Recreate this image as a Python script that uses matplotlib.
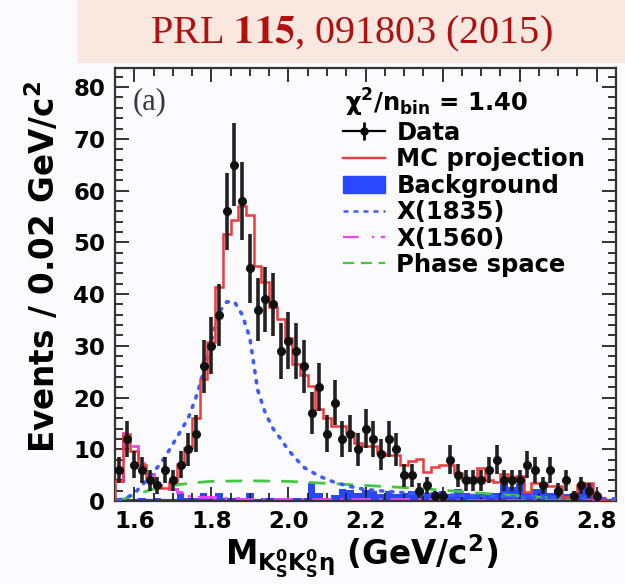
import matplotlib as mpl
mpl.use('Agg')
import matplotlib.pyplot as plt
import numpy as np
from matplotlib.lines import Line2D
from matplotlib.patches import Patch, Rectangle
from matplotlib.ticker import MultipleLocator

plt.rcParams['font.family'] = ['DejaVu Sans']
plt.rcParams['font.weight'] = 'bold'
plt.rcParams['mathtext.default'] = 'bf'

# 0.02 GeV/c^2 bins starting at 1.55
bin_lo = 1.55
bin_width = 0.02

data_counts = [6, 12, 7, 6, 4, 3, 6, 4, 7, 10,
               13, 26, 30, 36, 56, 65, 58, 45, 37, 39,
               38, 29, 31, 29, 26, 17, 22, 13, 19, 12,
               13, 10, 14, 12, 9, 12, 10, 5, 5, 2,
               3, 1, 1, 8, 5, 4, 4, 4, 6, 8,
               4, 4, 4, 7, 6, 3, 6, 2, 4, 1,
               3, 2, 1, 0, 0]

mc_projection = [3.9, 12.9, 9.7, 7.0, 4.5, 2.9, 2.6, 3.6, 7.2, 10.3,
                 16.0, 23.6, 30.7, 41.3, 51.7, 54.4, 57.0, 55.2, 45.5, 42.3,
                 37.5, 35.2, 31.6, 26.5, 24.4, 22.3, 17.8, 16.1, 14.5, 14.5,
                 13.2, 11.3, 10.7, 10.7, 9.2, 8.9, 8.9, 6.9, 7.8, 8.1,
                 5.7, 6.5, 6.9, 6.9, 5.5, 4.0, 4.0, 6.3, 4.0, 3.7,
                 5.3, 4.5, 4.8, 1.8, 3.5, 3.5, 2.9, 2.9, 0.8, 0.8,
                 3.1, 3.4, 0.0, 0.0, 0.0]

background = [0.5, 0.4, 0.4, 0.5, 0.4, 0.5, 0.4, 0.4, 1.6, 0.5,
              0.6, 1.6, 0.6, 1.6, 0.6, 0.6, 0.6, 1.6, 0.4, 0.5,
              0.5, 0.6, 0.4, 0.6, 0.6, 3.4, 1.6, 0.6, 1.2, 2.4,
              2.1, 1.6, 2.1, 1.9, 1.3, 1.9, 1.3, 1.6, 1.9, 2.4,
              1.6, 1.7, 1.9, 1.3, 2.4, 1.6, 1.3, 1.7, 1.6, 1.6,
              3.2, 2.7, 3.2, 1.6, 2.4, 2.3, 1.6, 2.4, 1.3, 1.6,
              3.2, 3.3, 0.0, 0.0, 0.0]

x1560 = [3.9, 13.2, 10.7, 7.4, 5.2, 3.9, 3.0, 2.3, 1.7, 1.0,
         0.8, 0.8, 0.7, 0.6, 0.5, 0.5, 0.4, 0.4, 0.4, 0.3,
         0.3, 0.3, 0.3, 0.3, 0.3, 0.3, 0.3, 0.3, 0.3, 0.3,
         0.3, 0.3, 0.3, 0.3, 0.3, 0.3, 0.3, 0.3, 0.3, 0.3,
         0.3, 0.3, 0.3, 0.2, 0.2, 0.2, 0.2, 0.2, 0.2, 0.2,
         0.2, 0.2, 0.2, 0.2, 0.2, 0.2, 0.2, 0.2, 0.2, 0.2,
         0.2, 0.2, 0.0, 0.0, 0.0]

x1835_mass = [1.56, 1.58, 1.60, 1.62, 1.64, 1.66, 1.68, 1.70, 1.72, 1.74,
              1.76, 1.78, 1.80, 1.82, 1.84, 1.86, 1.88, 1.90, 1.91, 1.92,
              1.94, 1.96, 1.98, 2.00, 2.04, 2.08, 2.12, 2.16, 2.20, 2.30,
              2.40, 2.50, 2.60, 2.70, 2.80, 2.85]
x1835_events = [0.2, 0.6, 1.5, 3.0, 4.8, 6.5, 8.5, 11.0, 13.5, 16.0,
                20.0, 25.0, 31.0, 36.5, 38.5, 38.5, 36.0, 31.5, 26.5, 21.5,
                17.0, 14.0, 12.0, 9.8, 6.5, 4.8, 3.6, 2.8, 2.2, 1.6,
                1.2, 1.0, 0.8, 0.6, 0.5, 0.4]

phsp_mass = [1.555, 1.57, 1.60, 1.65, 1.70, 1.75, 1.80, 1.90, 2.00, 2.10,
             2.20, 2.30, 2.40, 2.50, 2.60, 2.70, 2.76, 2.80]
phsp_events = [0.0, 0.3, 1.2, 2.3, 3.0, 3.5, 3.8, 3.9, 3.8, 3.4,
               3.0, 2.6, 2.1, 1.5, 1.0, 0.5, 0.2, 0.0]

edges = bin_lo + bin_width * np.arange(len(data_counts) + 1)
centers = 0.5 * (edges[:-1] + edges[1:])
counts = np.array(data_counts, dtype=float)

red = '#ee3a3a'
blue = '#2a48ff'
dot_blue = '#3d5cff'
magenta = '#ee44ee'
green = '#44c844'
bg = '#fbfafd'

fig = plt.figure(figsize=(6.25, 5.84), dpi=100, facecolor=bg)
ax = fig.add_axes([115 / 625, 83 / 584, 501 / 625, 433 / 584], facecolor=bg)

# journal banner
fig.patches.append(Rectangle((78 / 625, 1 - 62 / 584), 1, 62 / 584,
                             transform=fig.transFigure, color='#f8e8df',
                             zorder=0))
fig.text(0.562, 1 - 34 / 584, r'PRL $\mathbf{115}$, 091803 (2015)',
         family='Liberation Serif', math_fontfamily='stix',
         fontweight='normal', fontsize=29, color='#b01010',
         ha='center', va='center')

ax.stairs(background, edges, fill=True, color=blue, zorder=1)
ax.axhline(0, color='#3a3ad8', lw=3, zorder=1.5)
ax.plot(phsp_mass, phsp_events, color=green, lw=2.0, ls=(0, (6, 4)), zorder=2)
ax.stairs(x1560, edges, color=magenta, lw=2.0, ls=(0, (7, 3, 1, 3)),
          baseline=None, zorder=2)
ax.plot(x1835_mass, x1835_events, color=dot_blue, lw=2.6, ls=(0, (0.6, 2.2)),
        dash_capstyle='round', zorder=3)
ax.stairs(mc_projection, edges, color=red, lw=1.8, zorder=4)

shown = counts > 0
ax.errorbar(centers[shown], counts[shown], yerr=np.sqrt(counts[shown]),
            fmt='o', color='#111111', ecolor='#222222', ms=5.5,
            elinewidth=2.6, capsize=0, zorder=5)

ax.set_xlim(1.55, 2.85)
ax.set_ylim(0, 83.7)
ax.xaxis.set_major_locator(MultipleLocator(0.2))
ax.xaxis.set_minor_locator(MultipleLocator(0.05))
ax.yaxis.set_major_locator(MultipleLocator(10))
ax.yaxis.set_minor_locator(MultipleLocator(2))
ax.xaxis.set_major_formatter(lambda v, p: f'{v:.1f}')
ax.tick_params(which='both', direction='in', top=True, right=True,
               width=1.3, color='#222222', labelsize=16.5)
ax.tick_params(which='major', length=10)
ax.tick_params(which='minor', length=5.5)
ax.tick_params(axis='x', pad=6.5)
ax.tick_params(axis='y', pad=7)
for s in ax.spines.values():
    s.set_linewidth(1.6)
    s.set_color('#333333')

fig.text(43 / 625, 1 - 267 / 584, 'Events / 0.02 GeV/c$^{2}$',
         rotation=90, fontsize=23.5, ha='center', va='center')
fig.text(0.579, 18 / 584, r'M$_{K^0_SK^0_S\eta}$ (GeV/c$^{2}$)',
         fontsize=23.5, ha='center', va='baseline')

ax.text(0.035, 0.955, '(a)', transform=ax.transAxes, family='Liberation Serif',
        fontweight='normal', fontsize=22, color='#3b3540', va='top')

ax.text(0.459, 0.899, r'$\chi^2$/n$_{bin}$ = 1.40', transform=ax.transAxes,
        fontsize=17.5, va='baseline')

handles = [
    (Line2D([], [], color='k', lw=1.6, marker='o', ms=5),
     Line2D([], [], color='k', ls='', marker='|', ms=13, mew=2)),
    Line2D([], [], color=red, lw=1.7),
    Patch(color=blue),
    Line2D([], [], color=dot_blue, lw=1.8, ls=(0, (2, 2))),
    Line2D([], [], color=magenta, lw=1.6, ls=(0, (7, 6, 1, 3))),
    Line2D([], [], color=green, lw=1.6, ls=(0, (5, 3))),
]
labels = ['Data', 'MC projection', 'Background', 'X(1835)', 'X(1560)',
          'Phase space']
ax.legend(handles, labels, loc='upper left', bbox_to_anchor=(0.455, 0.878),
          frameon=False, fontsize=17.5, labelspacing=0.1, handlelength=1.75,
          handletextpad=0.45, borderpad=0, borderaxespad=0)

fig.savefig('out.png', dpi=100, facecolor=bg)
plt.close()
